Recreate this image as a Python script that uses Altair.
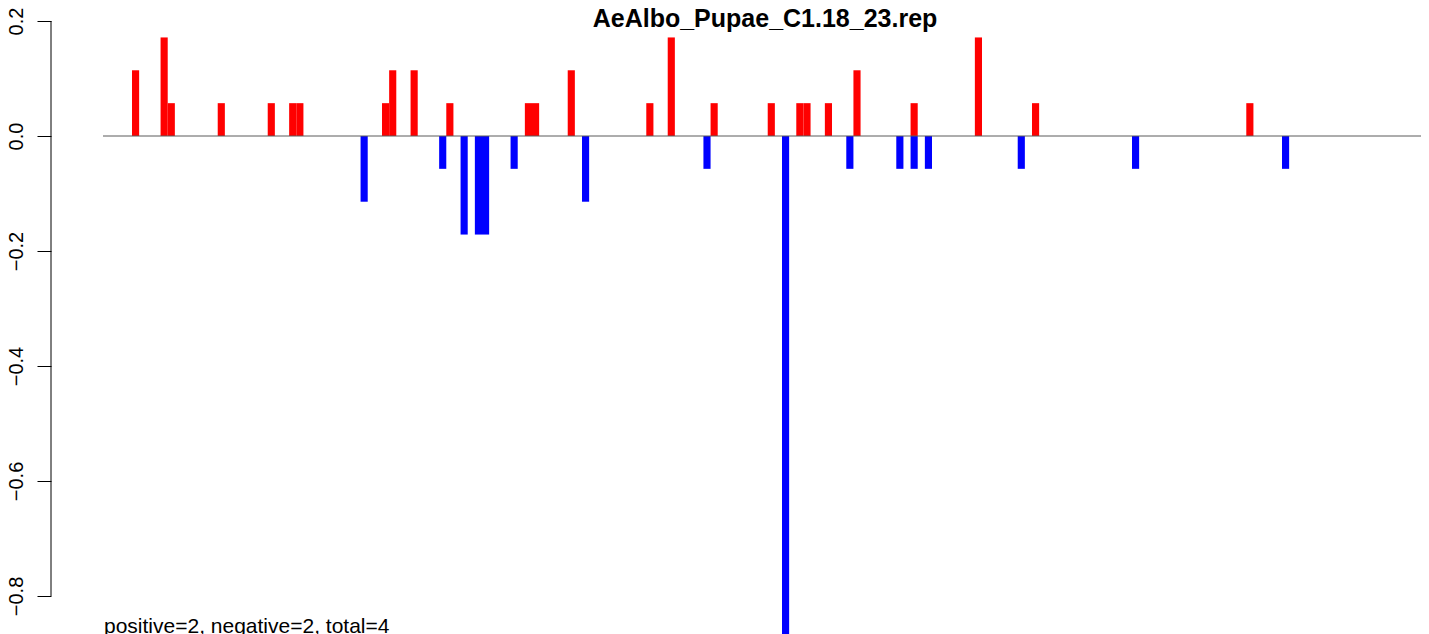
import altair as alt
import pandas as pd

title_text = "AeAlbo_Pupae_C1.18_23.rep"
note_text = "positive=2, negative=2, total=4"

# bar slot index (0 = first bar on the left) and height
pos_index = [0, 4, 5, 12, 19, 22, 23, 35, 36, 39, 44, 55, 56, 61, 72, 75,
             81, 89, 93, 94, 97, 101, 109, 118, 126, 156]
pos_value = [0.1143, 0.1714, 0.0571, 0.0571, 0.0571, 0.0571, 0.0571, 0.0571,
             0.1143, 0.1143, 0.0571, 0.0571, 0.0571, 0.1143, 0.0571, 0.1714,
             0.0571, 0.0571, 0.0571, 0.0571, 0.0571, 0.1143, 0.0571, 0.1714,
             0.0571, 0.0571]

neg_index = [32, 43, 46, 48, 49, 53, 63, 80, 91, 100, 107, 109, 111, 124, 140, 161]
neg_value = [-0.1143, -0.0571, -0.1714, -0.1714, -0.1714, -0.0571, -0.1143,
             -0.0571, -0.9143, -0.0571, -0.0571, -0.0571, -0.0571, -0.0571,
             -0.0571, -0.0571]

y_ticks = [0.2, 0.0, -0.2, -0.4, -0.6, -0.8]
x_domain = [-4.06, 180.46]
y_domain = [-0.890435, 0.222609]

df = pd.concat([
    pd.DataFrame({"idx": pos_index, "value": pos_value, "sign": "pos"}),
    pd.DataFrame({"idx": neg_index, "value": neg_value, "sign": "neg"}),
], ignore_index=True)

FONT = "Liberation Sans"

xscale = alt.Scale(domain=x_domain, nice=False, zero=False)
yscale = alt.Scale(domain=y_domain, nice=False, zero=False)

bars = alt.Chart(df).transform_calculate(
    idx2="datum.idx + 1"
).mark_bar(clip=True, strokeWidth=0).encode(
    x=alt.X("idx:Q", scale=xscale, axis=None),
    x2="idx2:Q",
    y=alt.Y("value:Q", scale=yscale, title=None,
            axis=alt.Axis(values=y_ticks, format=".1f", domain=False, grid=False,
                          offset=52, tickSize=14, tickColor="black", tickWidth=1,
                          labelAngle=270, labelAlign="center",
                          labelBaseline="alphabetic", labelPadding=14.5,
                          labelFont=FONT, labelFontSize=20, labelColor="black")),
    y2=alt.datum(0),
    color=alt.Color("sign:N", scale=alt.Scale(domain=["pos", "neg"],
                                              range=["#ff0000", "#0000ff"]),
                    legend=None),
)

zero_line = alt.Chart(pd.DataFrame({"v": [0.0]})).mark_rule(
    color="#5a5a5a", strokeWidth=1
).encode(y=alt.Y("v:Q", scale=yscale))

axis_line = alt.Chart(pd.DataFrame({"a": [y_ticks[0]], "b": [y_ticks[-1]]})).mark_rule(
    color="black", strokeWidth=1, clip=False
).encode(y=alt.Y("a:Q", scale=yscale), y2="b:Q", x=alt.value(-52))

title = alt.Chart(pd.DataFrame({"t": [title_text]})).mark_text(
    font=FONT, fontSize=25, fontWeight="bold", align="center",
    baseline="alphabetic", color="black"
).encode(text="t:N", x=alt.value(662), y=alt.value(19))

note = alt.Chart(pd.DataFrame({"t": [note_text]})).mark_text(
    font=FONT, fontSize=21, align="left", baseline="alphabetic", color="black"
).encode(text="t:N", x=alt.value(1), y=alt.value(625))

chart = alt.layer(bars, zero_line, axis_line, title, note).properties(
    width=1318, height=640,
    autosize=alt.AutoSizeParams(type="none"),
    padding={"left": 95, "top": 0, "right": 0, "bottom": 0},
).configure_view(strokeWidth=0)

chart.save("out.html", embed_options={"renderer": "svg", "actions": False})
